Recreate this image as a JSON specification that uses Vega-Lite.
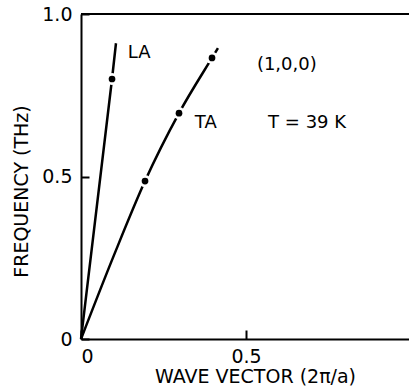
{
  "$schema": "https://vega.github.io/schema/vega-lite/v6.json",
  "autosize": "none",
  "padding": {"left": 81, "top": 14, "right": 0, "bottom": 53},
  "width": 330,
  "height": 325,
  "background": "white",
  "config": {
    "view": {"stroke": null},
    "font": "DejaVu Sans",
    "axis": {"grid": false, "domainColor": "black", "domainWidth": 2, "tickColor": "black", "tickWidth": 2, "labelColor": "black", "titleColor": "black", "labelFont": "DejaVu Sans", "titleFont": "DejaVu Sans", "labelFontWeight": "normal", "titleFontWeight": "normal", "labelFontSize": 19, "titleFontSize": 19}
  },
  "datasets": {
    "curves": [
      {"branch": "LA", "q": 0, "f": 0},
      {"branch": "LA", "q": 0.094, "f": 0.80},
      {"branch": "LA", "q": 0.106, "f": 0.91},
      {"branch": "TA", "q": 0, "f": 0},
      {"branch": "TA", "q": 0.1, "f": 0.258},
      {"branch": "TA", "q": 0.194, "f": 0.486},
      {"branch": "TA", "q": 0.297, "f": 0.695},
      {"branch": "TA", "q": 0.397, "f": 0.865},
      {"branch": "TA", "q": 0.415, "f": 0.895}
    ],
    "points": [
      {"branch": "LA", "q": 0.094, "f": 0.80},
      {"branch": "TA", "q": 0.194, "f": 0.486},
      {"branch": "TA", "q": 0.297, "f": 0.695},
      {"branch": "TA", "q": 0.397, "f": 0.865}
    ],
    "labels": [
      {"q": 0.142, "f": 0.88, "text": "LA"},
      {"q": 0.533, "f": 0.843, "text": "(1,0,0)"},
      {"q": 0.345, "f": 0.665, "text": "TA"},
      {"q": 0.567, "f": 0.665, "text": "T = 39 K"}
    ],
    "top": [{"f": 1}]
  },
  "layer": [
    {
      "data": {"name": "top"},
      "mark": {"type": "rule", "color": "black", "strokeWidth": 2},
      "encoding": {"y": {"field": "f", "type": "quantitative", "scale": {"domain": [0, 1]}}}
    },
    {
      "data": {"name": "curves"},
      "mark": {"type": "line", "color": "black", "strokeWidth": 2.5, "interpolate": "monotone"},
      "encoding": {
        "x": {"field": "q", "type": "quantitative", "scale": {"domain": [0, 1], "nice": false},
          "axis": {"title": "WAVE VECTOR (2π/a)", "values": [0, 0.5], "format": ".1~f", "ticks": true, "tickSize": -9, "labelPadding": 17, "titlePadding": 1, "titleX": 174, "domainWidth": 2}},
        "y": {"field": "f", "type": "quantitative", "scale": {"domain": [0, 1], "nice": false},
          "axis": {"title": "FREQUENCY (THz)", "values": [0, 0.5, 1], "labelExpr": "datum.value == 0 ? '0' : format(datum.value, '.1f')", "ticks": true, "tickSize": -8, "labelPadding": 17, "titlePadding": 10, "titleY": 177}},
        "detail": {"field": "branch"}
      }
    },
    {
      "data": {"name": "points"},
      "mark": {"type": "circle", "color": "white", "size": 150, "opacity": 1},
      "encoding": {
        "x": {"field": "q", "type": "quantitative"},
        "y": {"field": "f", "type": "quantitative"}
      }
    },
    {
      "data": {"name": "points"},
      "mark": {"type": "circle", "color": "black", "size": 45, "opacity": 1},
      "encoding": {
        "x": {"field": "q", "type": "quantitative"},
        "y": {"field": "f", "type": "quantitative"}
      }
    },
    {
      "data": {"name": "labels"},
      "mark": {"type": "text", "align": "left", "baseline": "middle", "fontSize": 18, "color": "black", "font": "DejaVu Sans"},
      "encoding": {
        "x": {"field": "q", "type": "quantitative"},
        "y": {"field": "f", "type": "quantitative"},
        "text": {"field": "text"}
      }
    }
  ]
}
